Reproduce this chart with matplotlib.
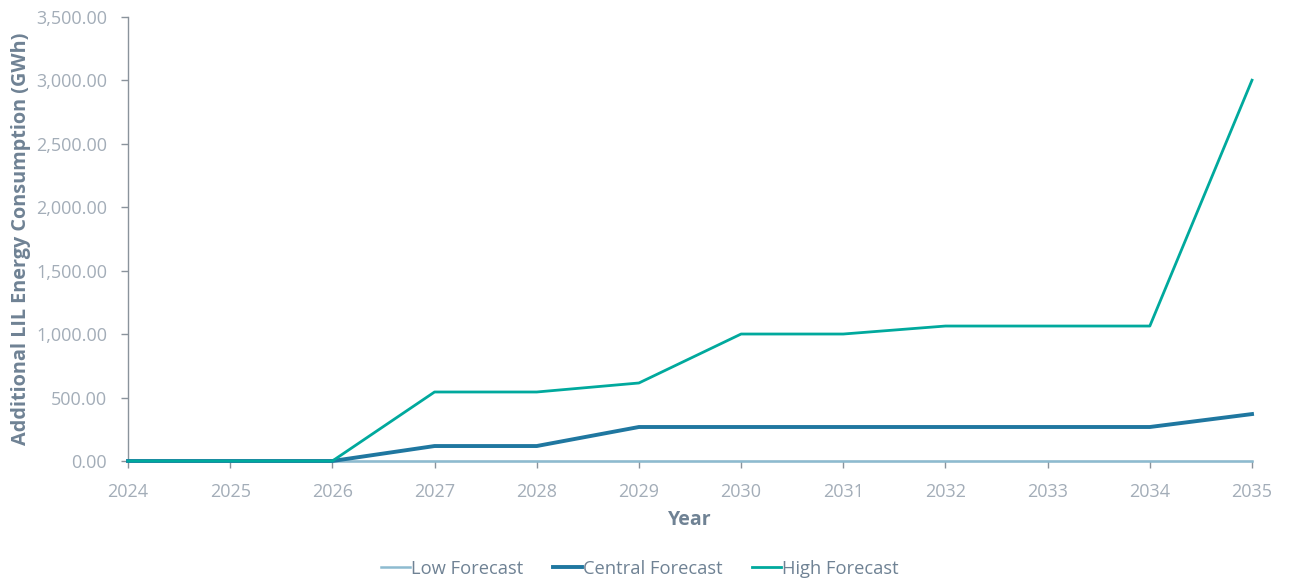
import matplotlib.pyplot as plt
from matplotlib.ticker import FuncFormatter

plt.rcParams['font.family'] = ['Open Sans', 'DejaVu Sans']

years = [2024, 2025, 2026, 2027, 2028, 2029, 2030, 2031, 2032, 2033, 2034, 2035]
low_forecast = [0, 0, 0, 0, 0, 0, 0, 0, 0, 0, 0, 0]
central_forecast = [0, 0, 0, 118, 118, 268, 268, 268, 268, 268, 268, 370]
high_forecast = [0, 0, 0, 544, 544, 615, 1001, 1001, 1064, 1064, 1064, 3002]

tick_color = '#a3adb8'
label_color = '#6f8294'
spine_color = '#8a939c'

fig = plt.figure(figsize=(12.89, 5.79), dpi=100)
ax = fig.add_axes([0.0993, 0.2038, 0.8720, 0.7668])

ax.plot(years, low_forecast, color='#8dbbd0', lw=1.8, label='Low Forecast',
        zorder=3, clip_on=False)
ax.plot(years, central_forecast, color='#1f77a0', lw=2.8, label='Central Forecast',
        zorder=4, clip_on=False)
ax.plot(years, high_forecast, color='#00a99d', lw=2.0, label='High Forecast',
        zorder=5, clip_on=False)

ax.set_xlim(2024, 2035)
ax.set_ylim(0, 3500)
ax.set_xticks(years)
ax.set_yticks(range(0, 3501, 500))
ax.yaxis.set_major_formatter(FuncFormatter(lambda v, p: f'{v:,.2f}'))

for side in ['top', 'right']:
    ax.spines[side].set_visible(False)
for side in ['left', 'bottom']:
    ax.spines[side].set_color(spine_color)
    ax.spines[side].set_linewidth(1.0)

ax.tick_params(axis='both', colors=spine_color, labelcolor=tick_color,
               labelsize=13, length=5, width=1, direction='out')
ax.tick_params(axis='x', pad=11)
ax.tick_params(axis='y', pad=10)

ax.set_xlabel('Year', fontsize=14, fontweight='bold', color=label_color, labelpad=6)
ax.set_ylabel('Additional LIL Energy Consumption (GWh)', fontsize=14.3,
              fontweight='bold', color=label_color, labelpad=4)

leg = ax.legend(loc='lower center', bbox_to_anchor=(0.4555, -0.30), ncol=3,
                frameon=False, fontsize=13.2, handlelength=1.6, handletextpad=0.05,
                columnspacing=1.6)
for t in leg.get_texts():
    t.set_color(label_color)

fig.savefig('out.png', dpi=100)
plt.close()
